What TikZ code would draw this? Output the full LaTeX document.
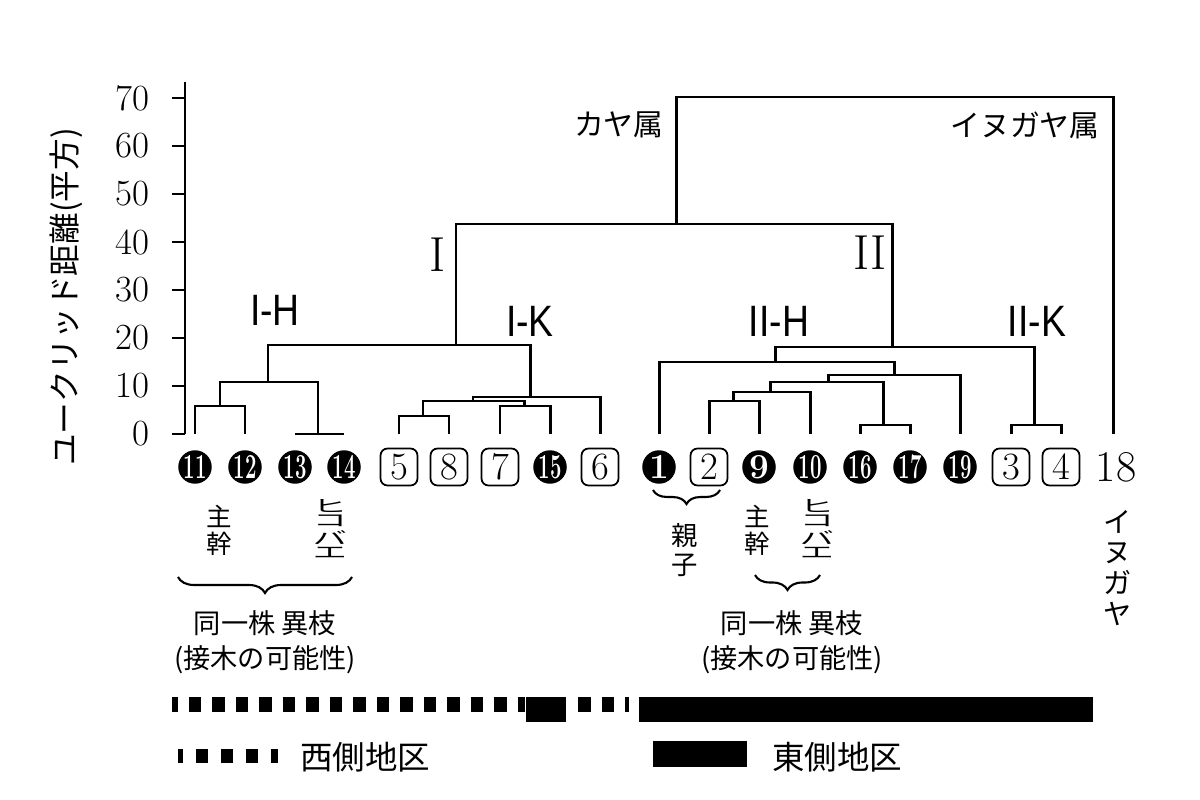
\documentclass[tikz,border=0pt]{standalone}
\usepackage{fontspec}
\usepackage{tikz}
\usetikzlibrary{positioning, decorations.pathreplacing}
\newfontfamily\jpfont{Noto Sans CJK JP}
\newfontfamily\grpfont{Liberation Sans}
\tikzset{
	tree/.style={line width=1.7pt},
	axisline/.style={line width=1.7pt},
	blk/.style={circle, fill=black, text=white, minimum size=0.67cm, inner sep=0pt, font=\bfseries\fontsize{20}{20}\selectfont},
	wht/.style={draw=black, line width=1pt, rounded corners=4pt, minimum size=0.74cm, inner sep=0pt, font=\fontsize{22}{22}\selectfont},
	plainleaf/.style={inner sep=0pt, font=\fontsize{25}{25}\selectfont},
	ticklab/.style={anchor=east, inner sep=0pt, font=\fontsize{21}{21}\selectfont},
	jp/.style={inner sep=0pt, align=center, font=\jpfont\fontsize{15.5}{20}\selectfont},
	jpbig/.style={inner sep=0pt, align=center, font=\jpfont\fontsize{17}{20}\selectfont},
	grp/.style={inner sep=0pt, font=\grpfont\fontsize{25}{25}\selectfont},
	roman/.style={inner sep=0pt, font=\fontsize{28}{28}\selectfont},
	% braces under the leaves
	curly/.style={decorate, decoration={brace, amplitude=#1}, line width=1.2pt},
	westbar/.style={line width=0.3cm, dash pattern=on 0.25cm off 0.22cm},
}

\begin{document}
\begin{tikzpicture}[x=0.02cm, y=-0.02cm]
	\useasboundingbox (0,0) rectangle (1200,800);

	% axis
	\draw[axisline] (185,82) -- (185,434);
	\foreach \v in {0,10,...,70} {
		\draw[axisline] (172,{434-4.8*\v}) -- (185,{434-4.8*\v});
		\node[ticklab] (tick\v) at (150,{434-4.8*\v}) {\v};
	}
	\node[jpbig, rotate=90, font=\jpfont\fontsize{18}{18}\selectfont] (ylab) at (66,297) {ユークリッド距離(平方)};

	% leaves
	\foreach \x/\n/\w in {195/11/0.58, 245/12/0.58, 295/13/0.58, 344/14/0.58, 550/15/0.58, 659/1/1, 759/9/1, 810/10/0.58, 860/16/0.58, 910/17/0.58, 960/19/0.58}
		\node[blk] (n\n) at (\x,467) {\scalebox{\w}[1]{\n}};
	\foreach \x/\n in {399/5, 449/8, 500/7, 600/6, 709/2, 1011/3, 1061/4}
		\node[wht] (n\n) at (\x,467) {\n};
	\node[plainleaf] (n18) at (1116,467) {18};

	% left cluster
	\draw[tree] (195,434) |- (245,406) -- (245,434);
	\draw[tree] (295,434) -- (344,434);
	\draw[tree] (220,406) |- (318,382) -- (318,434);
	\draw[tree] (399,434) |- (449,416) -- (449,434);
	\draw[tree] (500,434) |- (550,406) -- (550,434);
	\draw[tree] (423,416) |- (524,401) -- (524,406);
	\draw[tree] (473,401) |- (600,397) -- (600,434);
	\draw[tree] (268,382) |- (530,345) -- (530,397);
	% right cluster
	\draw[tree] (709,434) |- (759,401) -- (759,434);
	\draw[tree] (733,401) |- (810,392) -- (810,434);
	\draw[tree] (860,434) |- (910,425) -- (910,434);
	\draw[tree] (770,392) |- (883,382) -- (883,425);
	\draw[tree] (828,382) |- (960,375) -- (960,434);
	\draw[tree] (659,434) |- (894,362) -- (894,375);
	\draw[tree] (1011,434) |- (1061,425) -- (1061,434);
	\draw[tree] (775,362) |- (1034,347) -- (1034,425);
	% top joins
	\draw[tree] (456,345) |- (892,224) -- (892,347);
	\draw[tree] (676,224) |- (1113,97) -- (1113,434);

	% group labels
	\node[jpbig, anchor=east] (kaya) at (664,125) {カヤ属};
	\node[jpbig, anchor=east] (inugaya) at (1100,125) {イヌガヤ属};
	\node[roman] (g1) at (438,255) {I};
	\node[roman] (g2) at (870,253) {II};
	\node[grp] (g1h) at (275,310) {\scalebox{0.85}[1]{I-H}};
	\node[grp] (g1k) at (530,321) {\scalebox{0.85}[1]{I-K}};
	\node[grp] (g2h) at (779,321) {\scalebox{0.85}[1]{II-H}};
	\node[grp] (g2k) at (1037,321) {\scalebox{0.85}[1]{II-K}};

	% notes under the leaves
	\node[jp, font=\jpfont\fontsize{14.5}{15.5}\selectfont] (kan1) at (219,530) {主\\幹};
	\node[jp] (hiko1) at (330,529) {\scalebox{1.25}[0.62]{\shortstack{ヒ\\コ\\バ\\エ}}};
	\coordinate (b1l) at (178,577);
	\coordinate (b1r) at (352,577);
	\draw[curly=0.32cm] (b1r) -- (b1l);
	\node[jp] (same1) at (265,642) {同一株\ 異枝\\(接木の可能性)};

	\coordinate (b2l) at (653,490);
	\coordinate (b2r) at (720,490);
	\draw[curly=0.28cm] (b2r) -- (b2l);
	\node[jp, font=\jpfont\fontsize{15}{17}\selectfont] (oyako) at (685,550) {親\\子};
	\node[jp, font=\jpfont\fontsize{14.5}{15.5}\selectfont] (kan2) at (757,530) {主\\幹};
	\node[jp] (hiko2) at (817,529) {\scalebox{1.25}[0.62]{\shortstack{ヒ\\コ\\バ\\エ}}};
	\coordinate (b3l) at (755,575);
	\coordinate (b3r) at (820,575);
	\draw[curly=0.3cm] (b3r) -- (b3l);
	\node[jp] (same2) at (792,642) {同一株\ 異枝\\(接木の可能性)};

	\node[jp, font=\jpfont\fontsize{16}{17.6}\selectfont] (inu) at (1118,568) {イ\\ヌ\\ガ\\ヤ};

	% area bars
	\draw[westbar, dash phase=0.13cm] (172,704) -- (525,704);
	\fill (526,697) rectangle (566,722);
	\draw[westbar] (578,704) -- (629,704);
	\fill (639,697) rectangle (1093,722);

	% legend
	\draw[line width=0.28cm, dash pattern=on 0.24cm off 0.26cm, dash phase=0.14cm] (178,756) -- (278,756);
	\node[jpbig, anchor=west, font=\jpfont\fontsize{18.5}{20}\selectfont] (west) at (300,757) {西側地区};
	\fill (653,741) rectangle (747,767);
	\node[jpbig, anchor=west, font=\jpfont\fontsize{18.5}{20}\selectfont] (east) at (772,757) {東側地区};
\end{tikzpicture}
\end{document}
